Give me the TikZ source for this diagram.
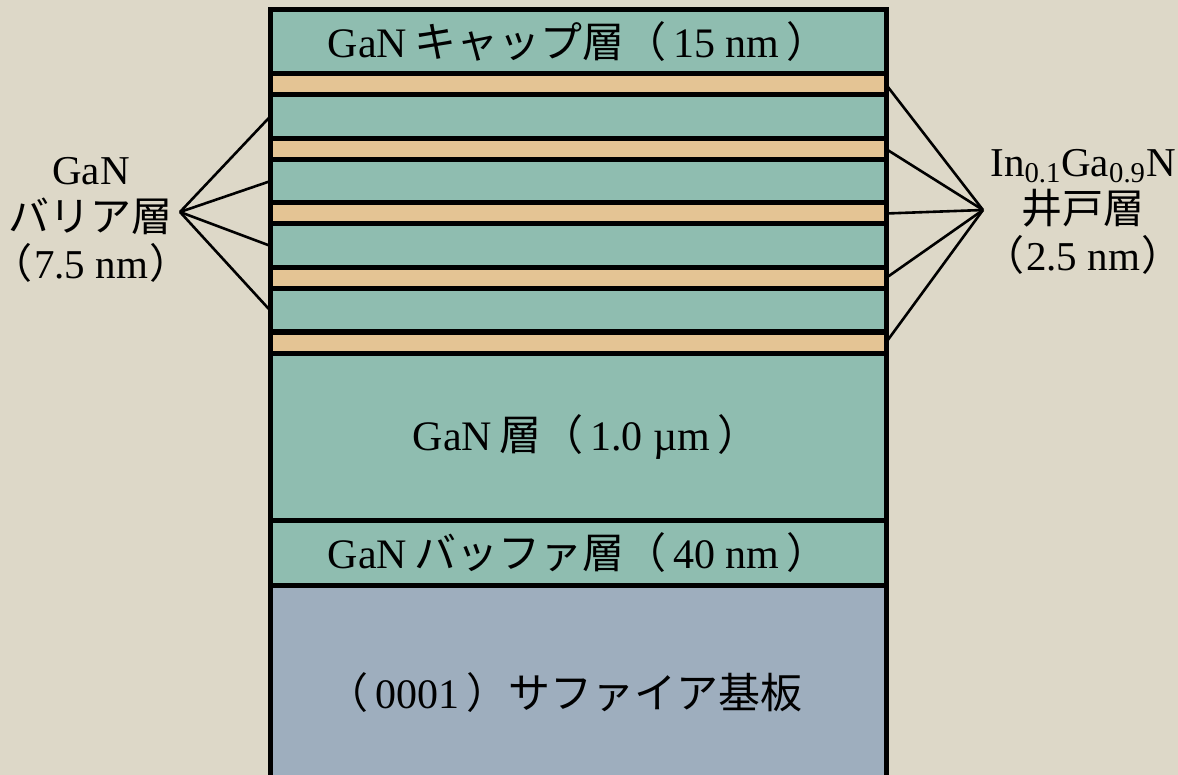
\documentclass[tikz,border=0pt]{standalone}
\usepackage{fontspec}
\setmainfont{Liberation Serif}
\newfontfamily\jpfont{Noto Sans CJK JP}
\usetikzlibrary{positioning}
\definecolor{paper}{RGB}{221,216,200}
\definecolor{gancol}{RGB}{143,189,176}
\definecolor{ingancol}{RGB}{228,196,148}
\definecolor{saphcol}{RGB}{158,174,190}
\tikzset{
  layer/.style={draw=black,line width=2.5pt,minimum width=308pt,
    inner sep=0pt,outer sep=0pt,font=\fontsize{21}{23}\selectfont},
  barrier/.style={layer,fill=gancol,minimum height=21.75pt},
  well/.style={layer,fill=ingancol,minimum height=10.5pt},
  fanline/.style={line width=1.3pt,black},
  sidelbl/.style={align=center,font=\fontsize{20.5}{23.5}\selectfont,inner sep=0pt},
}

\begin{document}
\begin{tikzpicture}[x=0.5pt,y=-0.5pt]
  \useasboundingbox (0,0) rectangle (1178,775);
  \fill[paper] (0,0) rectangle (1178,775);
  % layer stack, top to bottom
  \node[layer,fill=gancol,minimum height=32pt,anchor=north west] (cap) at (270,10)
    {GaN\,{\jpfont キャップ層（}\,15 nm\,{\jpfont ）}};
  \node[well,below=0pt of cap] (w1) {};
  \node[barrier,below=0pt of w1] (b1) {};
  \node[well,below=0pt of b1] (w2) {};
  \node[barrier,below=0pt of w2] (b2) {};
  \node[well,below=0pt of b2] (w3) {};
  \node[barrier,below=0pt of w3] (b3) {};
  \node[well,below=0pt of b3] (w4) {};
  \node[barrier,below=0pt of w4] (b4) {};
  \node[well,below=0pt of b4] (w5) {};
  \node[layer,fill=gancol,minimum height=83.5pt,below=0pt of w5] (gan)
    {\raisebox{-4pt}{\kern8pt GaN\,{\jpfont 層（}\,1.0 µm\,{\jpfont ）}}};
  \node[layer,fill=gancol,minimum height=32.5pt,below=0pt of gan] (buf)
    {GaN\,{\jpfont バッファ層（}\,40 nm\,{\jpfont ）}};
  \node[layer,fill=saphcol,minimum height=107.5pt,below=0pt of buf] (sub)
    {{\jpfont （}\,0001\,{\jpfont ）サファイア基板}\kern14pt\relax};
  % side labels
  \coordinate (barfan) at (180,212);
  \coordinate (wellfan) at (983,210);
  \node[sidelbl] (barlbl) at (91,220)
    {GaN\\{\jpfont バリア層}\\{\jpfont （}\kern1pt7.5 nm\kern1pt{\jpfont ）}};
  \node[sidelbl] (welllbl) at (1083,212)
    {In\textsubscript{0.1}Ga\textsubscript{0.9}N\\{\jpfont 井戸層}\\{\jpfont （}\kern1pt2.5 nm\kern1pt{\jpfont ）}};
  \foreach \i in {1,...,4}
    \draw[fanline] (barfan) -- (b\i.west);
  \foreach \i in {1,...,5}
    \draw[fanline] (wellfan) -- (w\i.east);
\end{tikzpicture}
\end{document}
